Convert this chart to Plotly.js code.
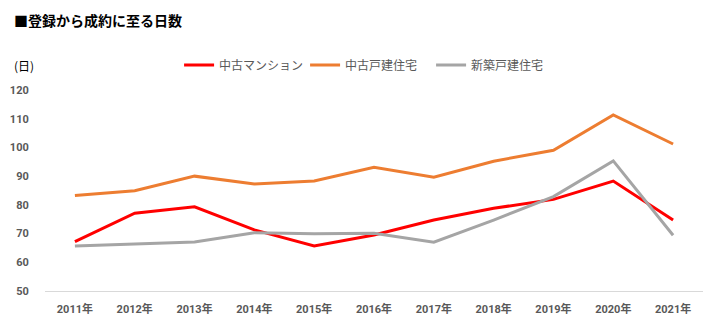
<!DOCTYPE html>
<html>
<head>
<meta charset="utf-8">
<script src="https://cdn.plot.ly/plotly-3.0.1.min.js"></script>
<style>html,body{margin:0;padding:0;background:#fff;}#chart{width:716px;height:333px;}</style>
</head>
<body>
<div id="chart"></div>
<script>
const years = ["2011年","2012年","2013年","2014年","2015年","2016年","2017年","2018年","2019年","2020年","2021年"];
const mansion = [67.2, 77.1, 79.3, 71.3, 65.7, 69.5, 74.7, 78.8, 81.9, 88.3, 74.7];
const usedHouse = [83.3, 84.9, 90.0, 87.3, 88.3, 93.1, 89.6, 95.2, 99.0, 111.3, 101.2];
const newHouse = [65.7, 66.4, 67.1, 70.3, 69.9, 70.1, 67.0, 74.7, 82.9, 95.3, 69.4];
const seriesNames = ["中古マンション","中古戸建住宅","新築戸建住宅"];
const yTicks = [50,60,70,80,90,100,110,120];

const jp = '"Noto Sans CJK JP", "Noto Sans", sans-serif';
const num = 'Roboto, "Noto Sans CJK JP", sans-serif';

const colors = ["#FF0000","#ED7D31","#A5A5A5"];
const data = [mansion, usedHouse, newHouse].map((vals,i)=>({
  x: years, y: vals, type:'scatter', mode:'lines', name: seriesNames[i],
  line:{color:colors[i], width:3}, hoverinfo:'skip'
}));

const layout = {
  width:716, height:333,
  margin:{l:45, r:13, t:90, b:42},
  paper_bgcolor:'#fff', plot_bgcolor:'#fff',
  showlegend:true,
  legend:{orientation:'h', x:0.491, xanchor:'center', y:1.124, yanchor:'middle',
    font:{family:jp, size:12, color:'#595959'}, itemwidth:30, tracegroupgap:0,
    entrywidth:81, entrywidthmode:'pixels'},
  xaxis:{type:'category', range:[-0.5,10.5], showgrid:false, zeroline:false,
    showline:true, linecolor:'#D9D9D9', linewidth:1,
    ticks:'outside', ticklen:8, tickcolor:'rgba(0,0,0,0)',
    tickfont:{family:num, size:11, color:'#595959', weight:'bold'}},
  yaxis:{range:[50,120], tickvals:yTicks, showgrid:false, zeroline:false, showline:false,
    ticks:'outside', ticklen:13, tickcolor:'rgba(0,0,0,0)',
    tickfont:{family:num, size:11, color:'#595959', weight:'bold'}},
  annotations:[
    {text:'<b>■登録から成約に至る日数</b>', xref:'paper', yref:'paper', x:-33/658, xanchor:'left',
     y:(291-20)/201, yanchor:'middle', showarrow:false, font:{family:jp, size:14, color:'#000'}},
    {text:'(日)', xref:'paper', yref:'paper', x:-33/658, xanchor:'left',
     y:(291-65)/201, yanchor:'middle', showarrow:false, font:{family:jp, size:12, color:'#000'}}
  ]
};
Plotly.newPlot('chart', data, layout, {displayModeBar:false, staticPlot:true});
</script>
</body>
</html>
